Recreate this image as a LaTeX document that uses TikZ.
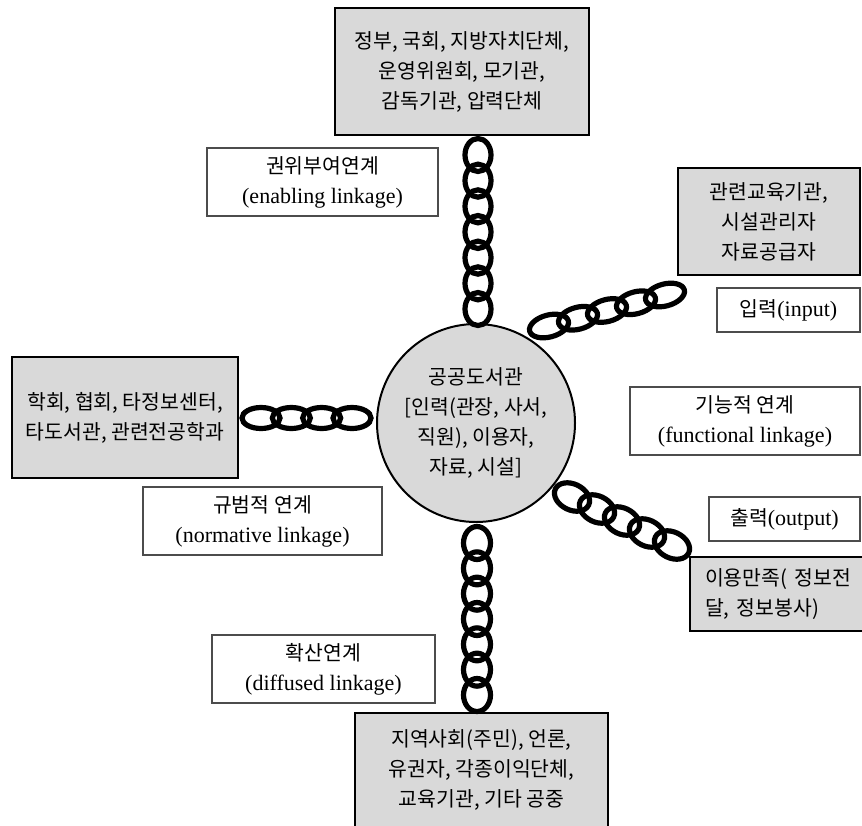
\documentclass[tikz,border=0pt]{standalone}
\usepackage{fontspec}
\setmainfont{Liberation Serif}
\newfontfamily\kr{Noto Sans CJK KR}[Scale=0.93]
\usetikzlibrary{calc}

\begin{document}
\begin{tikzpicture}[x=1pt,y=-1pt]
            \tikzstyle{every node}+=[inner sep=0pt, align=center, font=\fontsize{22}{30}\selectfont]
            \tikzstyle{grp}=[rectangle, draw=black, line width=2.6pt, fill=gray!30]
            \tikzstyle{lbl}=[rectangle, draw=black!70, line width=1.1pt, fill=white]
            \tikzstyle{link}=[draw=black, line width=5.2pt]
            \useasboundingbox (0,0) rectangle (862,825);
            % centre
            \node [circle, draw=black, line width=2pt, fill=gray!30, minimum size=198pt] (lib) at (476,423)
              {\kr 공공도서관\\\kr [인력(관장, 사서,\\\kr 직원), 이용자,\\\kr 자료, 시설]};
            % groups
            \node [grp, minimum width=254pt, minimum height=127pt] (gov) at (462,71.5)
              {\kr 정부, 국회, 지방자치단체,\\\kr 운영위원회, 모기관,\\\kr 감독기관, 압력단체};
            \node [grp, minimum width=182pt, minimum height=107pt] (inst) at (769,221.5)
              {\kr 관련교육기관,\\\kr 시설관리자\\\kr 자료공급자};
            \node [grp, minimum width=226pt, minimum height=121pt] (soc) at (125,417.5)
              {\kr 학회, 협회, 타정보센터,\\\kr 타도서관, 관련전공학과};
            \node [grp, minimum width=185pt, minimum height=74pt, text width=155pt, align=left] (use) at (782.5,594)
              {\kr 이용만족(~정보전\\\kr 달, 정보봉사)};
            \node [grp, minimum width=253pt, minimum height=114pt] (pub) at (481.5,770)
              {\kr 지역사회(주민), 언론,\\\kr 유권자, 각종이익단체,\\\kr 교육기관, 기타 공중};
            % linkage labels
            \node [lbl, minimum width=231pt, minimum height=68pt] (enab) at (322.5,182)
              {{\kr 권위부여연계}\\(enabling linkage)};
            \node [lbl, minimum width=143pt, minimum height=44pt] (inp) at (788.5,310) {{\kr 입력}(input)};
            \node [lbl, minimum width=230pt, minimum height=68pt] (func) at (745,421)
              {{\kr 기능적 연계}\\(functional linkage)};
            \node [lbl, minimum width=239pt, minimum height=68pt] (norm) at (262.5,521)
              {{\kr 규범적 연계}\\(normative linkage)};
            \node [lbl, minimum width=151pt, minimum height=44pt] (outp) at (784.5,519) {{\kr 출력}(output)};
            \node [lbl, minimum width=223pt, minimum height=68pt] (diff) at (323.5,669)
              {{\kr 확산연계}\\(diffused linkage)};
            % chains
            \coordinate (topA) at (478,155);
            \coordinate (topB) at (478,309);
            \coordinate (botA) at (477,543);
            \coordinate (botB) at (477,695);
            \coordinate (lftA) at (261,418);
            \coordinate (lftB) at (352,418);
            \coordinate (inA) at (549,326);
            \coordinate (inB) at (665,295);
            \coordinate (outA) at (572,497);
            \coordinate (outB) at (672,545);
            \foreach \k in {0,...,6}
              \draw [link] ($(topA)!\k/6!(topB)$) circle [x radius=13, y radius=16.5];
            \foreach \k in {0,...,6}
              \draw [link] ($(botA)!\k/6!(botB)$) circle [x radius=13.5, y radius=16.5];
            \foreach \k in {0,...,3}
              \draw [link] ($(lftA)!\k/3!(lftB)$) circle [x radius=19, y radius=10.5];
            \foreach \k in {0,...,4}
              \draw [link] ($(inA)!\k/4!(inB)$) circle [x radius=20, y radius=11, rotate=15];
            \foreach \k in {0,...,4}
              \draw [link] ($(outA)!\k/4!(outB)$) circle [x radius=18.5, y radius=13, rotate=-26];
\end{tikzpicture}
\end{document}
